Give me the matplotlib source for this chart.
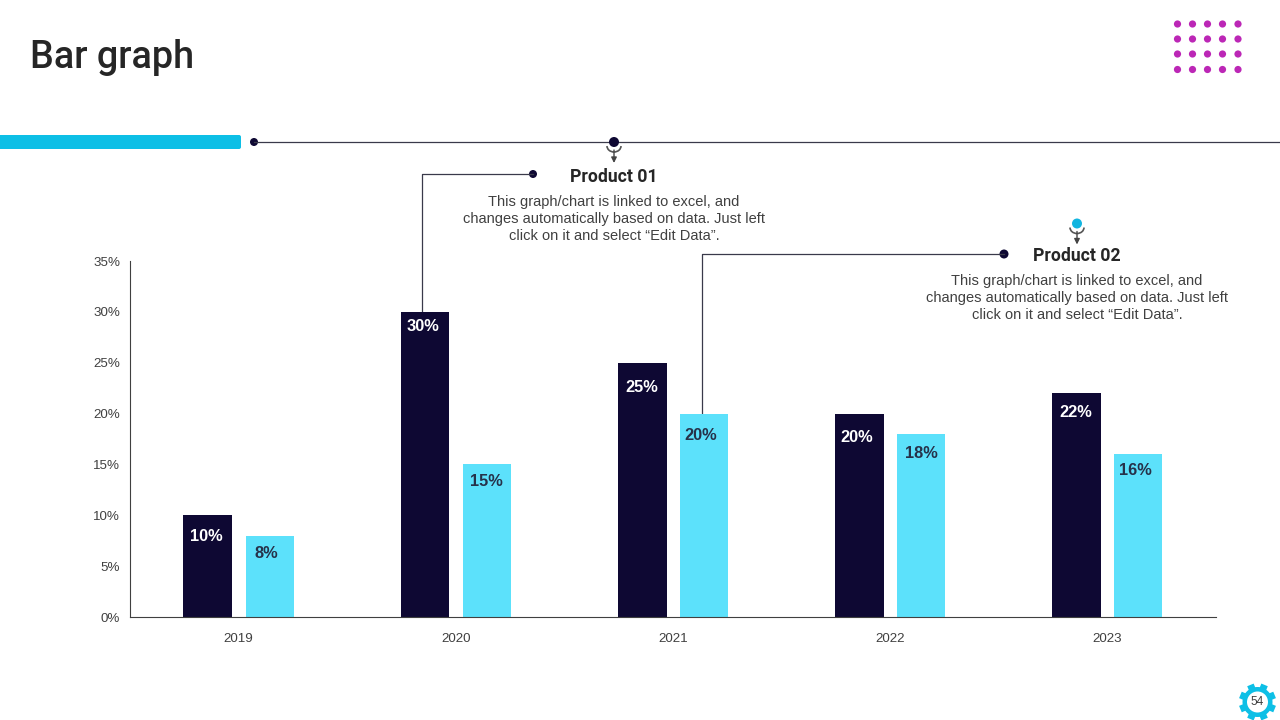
import numpy as np
import matplotlib.pyplot as plt
from matplotlib.patches import Arc, Circle, FancyBboxPatch

years = ["2019", "2020", "2021", "2022", "2023"]
product_01 = [10, 30, 25, 20, 22]
product_02 = [8, 15, 20, 18, 16]
y_ticks = [0, 5, 10, 15, 20, 25, 30, 35]

# where each value label sits relative to its bar, in pixels
drop_01 = [21, 15, 25, 24, 19]
drop_02 = [18, 17, 22, 20, 16]
nudge_01 = [-1, -2, 0, -3, -1]
nudge_02 = [-3, 0, -3, 0, -3]

NAVY = "#0e0833"
LIGHT = "#5ce1fb"
CYAN = "#0dbfe6"
MAGENTA = "#bc27b6"
RULE = "#3a3a4a"
BODY = "Liberation Sans"
blurb = "This graph/chart is linked to excel, and\nchanges automatically based on data. Just left\nclick on it and select \u201cEdit Data\u201d."

fig = plt.figure(figsize=(12.8, 7.2), dpi=100)

# overlay in pixel coordinates for the slide furniture
bg = fig.add_axes([0, 0, 1, 1])
bg.set_xlim(0, 1280)
bg.set_ylim(720, 0)
bg.axis("off")

# chart axes, placed to the pixel
ax = fig.add_axes([130 / 1280, (720 - 617) / 720, 1086 / 1280, 356 / 720])
ax.patch.set_alpha(0)
x = np.arange(len(years)) + 0.5
ax.bar(x - 0.142, product_01, width=0.225, color=NAVY)
ax.bar(x + 0.143, product_02, width=0.221, color=LIGHT)
ax.set_xlim(0, 5)
ax.set_ylim(0, 35)
ax.set_xticks(x, years)
ax.set_yticks(y_ticks, [f"{t}%" for t in y_ticks])
ax.tick_params(length=0, labelsize=9.6, labelcolor="#404040", labelfontfamily=BODY)
ax.tick_params(axis="x", pad=11.5)
ax.tick_params(axis="y", pad=7)
for s in ["top", "right"]:
    ax.spines[s].set_visible(False)
for s in ["left", "bottom"]:
    ax.spines[s].set_color("#404040")
    ax.spines[s].set_linewidth(0.8)

for xi, v, d, n in zip(x, product_01, drop_01, nudge_01):
    ax.annotate(f"{v}%", (xi - 0.142, v), xytext=(n, -d), textcoords="offset pixels",
                ha="center", va="center", color="white", fontsize=11.8, fontweight="bold", family=BODY)
for xi, v, d, n in zip(x, product_02, drop_02, nudge_02):
    ax.annotate(f"{v}%", (xi + 0.143, v), xytext=(n, -d), textcoords="offset pixels",
                ha="center", va="center", color="#26324a", fontsize=11.8, fontweight="bold", family=BODY)

# title and dot grid
bg.text(30, 58, "Bar graph", fontsize=27.3, family="Roboto", fontweight="medium", color="#262626", va="center")
for px in [1177.5, 1192.5, 1207.5, 1222.5, 1238]:
    for py in [24, 39, 54, 69.5]:
        bg.add_patch(Circle((px, py), 3.6, color=MAGENTA, lw=0))

# top band with rule
bg.add_patch(FancyBboxPatch((-6, 135), 247, 14, boxstyle="round,pad=0,rounding_size=2", fc=CYAN, lw=0))
bg.plot([254, 1280], [142, 142], color=RULE, lw=0.9)
bg.add_patch(Circle((254, 142), 4, color=NAVY, lw=0))


def pin(px, py, color):
    bg.add_patch(Circle((px, py), 5, color=color, lw=0, zorder=3))
    bg.add_patch(Arc((px, py + 4), 14, 12, theta1=0, theta2=180, ec="#555555", lw=1.2))
    bg.annotate("", (px, py + 21), (px, py + 8), arrowprops=dict(arrowstyle="-|>", color="#444444", lw=1.0, mutation_scale=8, shrinkA=0, shrinkB=0))


pin(614, 142, NAVY)
pin(1077, 223.5, "#12b5e0")

# callouts
bg.plot([422, 422, 533], [312, 174, 174], color=RULE, lw=0.9)
bg.add_patch(Circle((533, 174), 4, color=NAVY, lw=0))
bg.plot([702, 702, 1004], [414, 254, 254], color=RULE, lw=0.9)
bg.add_patch(Circle((1004, 254), 4.5, color=NAVY, lw=0))

bg.text(614, 177, "Product 01", ha="center", va="center", fontsize=12.7, family="Roboto", fontweight="bold", color="#262626")
bg.text(614, 219, blurb, ha="center", va="center", fontsize=10.5, family=BODY, color="#404040", linespacing=1.29)
bg.text(1077, 256, "Product 02", ha="center", va="center", fontsize=12.7, family="Roboto", fontweight="bold", color="#262626")
bg.text(1077, 298, blurb, ha="center", va="center", fontsize=10.5, family=BODY, color="#404040", linespacing=1.29)

# page number gear
gx, gy = 1257.5, 702
for a in np.arange(0, 2 * np.pi, np.pi / 4):
    bg.plot([gx, gx + 18.5 * np.cos(a + np.pi / 8)], [gy, gy + 18.5 * np.sin(a + np.pi / 8)], color=CYAN, lw=5, solid_capstyle="butt")
bg.add_patch(Circle((gx, gy), 15, color=CYAN, lw=0, zorder=3))
bg.add_patch(Circle((gx, gy), 10.5, color="white", lw=0, zorder=4))
bg.text(gx, gy, "54", ha="center", va="center", fontsize=8.6, family=BODY, color="#404040", zorder=5)

fig.savefig("out.png", dpi=100)
